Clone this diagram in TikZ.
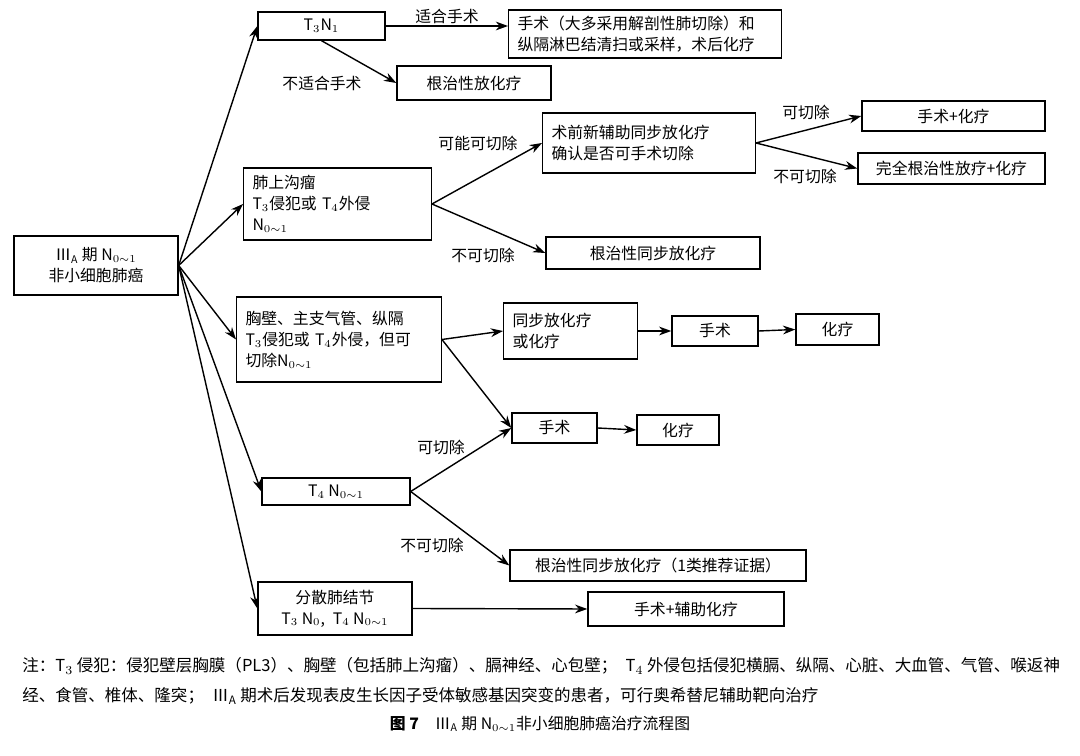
\documentclass[tikz,border=0pt]{standalone}
\usepackage{fontspec}
\setmainfont{Noto Sans CJK SC}
\usetikzlibrary{arrows.meta}
\tikzset{
  box/.style={draw,thick,inner sep=2pt,font=\fontsize{9}{12}\selectfont},
  lbox/.style={box,align=left,inner xsep=5pt},
  lbl/.style={font=\fontsize{9}{11}\selectfont,inner sep=1pt},
  note/.style={font=\fontsize{9.4}{11}\selectfont,inner sep=0pt,anchor=west},
  arr/.style={thick,-{Stealth[length=7pt,width=5pt]}}
}
\begin{document}
\begin{tikzpicture}[x=0.02cm,y=-0.02cm]
    \useasboundingbox (0,0) rectangle (1080,756);
    % boxes
    \node[box,minimum width=3.28cm,minimum height=1.18cm,align=center] (root) at (96,265.5) {Ⅲ$_\mathrm{A}$ 期 N$_{0\sim1}$\\非小细胞肺癌};
    \node[box,minimum width=2.54cm,minimum height=0.56cm] (t3n1) at (321.5,26) {T$_3$N$_1$};
    \node[lbox,text width=5.1cm,minimum height=0.96cm] (surg1) at (645,34) {手术（大多采用解剖性肺切除）和\\纵隔淋巴结清扫或采样，术后化疗};
    \node[box,minimum width=3.08cm,minimum height=0.68cm] (rad1) at (474,83) {根治性放化疗};
    \node[lbox,text width=3.4cm,minimum height=1.44cm] (pan) at (337.5,204) {肺上沟瘤\\T$_3$侵犯或 T$_4$外侵\\N$_{0\sim1}$};
    \node[lbox,text width=3.9cm,minimum height=1.2cm] (neo) at (649,143) {术前新辅助同步放化疗\\确认是否可手术切除};
    \node[box,minimum width=3.66cm,minimum height=0.6cm] (sc1) at (953.5,116) {手术+化疗};
    \node[box,minimum width=3.74cm,minimum height=0.62cm] (full) at (951.5,168.5) {完全根治性放疗+化疗};
    \node[box,minimum width=4.28cm,minimum height=0.64cm] (crt1) at (653,253) {根治性同步放化疗};
    \node[lbox,text width=3.74cm,minimum height=1.7cm] (wall) at (339,339.5) {胸壁、主支气管、纵隔\\T$_3$侵犯或 T$_4$外侵，但可\\切除N$_{0\sim1}$};
    \node[lbox,text width=2.32cm,minimum height=1.12cm] (cc) at (570.5,331) {同步放化疗\\或化疗};
    \node[box,minimum width=1.72cm,minimum height=0.6cm] (s2) at (715,331) {手术};
    \node[box,minimum width=1.66cm,minimum height=0.62cm] (c2) at (837.5,329.5) {化疗};
    \node[box,minimum width=1.7cm,minimum height=0.6cm] (s3) at (554.5,428) {手术};
    \node[box,minimum width=1.64cm,minimum height=0.6cm] (c3) at (678,430) {化疗};
    \node[box,minimum width=2.96cm,minimum height=0.54cm] (t4) at (336,491.5) {T$_4$ N$_{0\sim1}$};
    \node[box,minimum width=5.92cm,minimum height=0.62cm] (crt2) at (658,565.5) {根治性同步放化疗（1类推荐证据）};
    \node[box,minimum width=3.08cm,minimum height=1.06cm,align=center] (nod) at (335,608.5) {分散肺结节\\T$_3$ N$_0$,\enspace T$_4$ N$_{0\sim1}$};
    \node[box,minimum width=3.92cm,minimum height=0.68cm] (sac) at (686,609) {手术+辅助化疗};
    % connectors
    \draw[arr] (root.east) -- (t3n1.west);
    \draw[arr] (root.east) -- (pan.west);
    \draw[arr] (root.east) -- (wall.west);
    \draw[arr] (root.east) -- (t4.west);
    \draw[arr] (root.east) -- (nod.west);
    \draw[arr] (t3n1.east) -- (surg1.west |- t3n1.east);
    \draw[arr] (t3n1.south) -- (rad1.west);
    \draw[arr] (pan.east) -- (neo.west);
    \draw[arr] (pan.east) -- (crt1.west);
    \draw[arr] (neo.east) -- (sc1.west);
    \draw[arr] (neo.east) -- (full.west);
    \draw[arr] (wall.east) -- (cc.west);
    \draw[arr] (wall.east) -- (s3.west);
    \draw[arr] (cc.east) -- (s2.west);
    \draw[arr] (s2.east) -- (c2.west);
    \draw[arr] (s3.east) -- (c3.west);
    \draw[arr] (t4.east) -- (s3.west);
    \draw[arr] (t4.east) -- (crt2.west);
    \draw[arr] (nod.east) -- (sac.west);
    % labels
    \node[lbl] (l1) at (447,16) {适合手术};
    \node[lbl] (l2) at (322,83) {不适合手术};
    \node[lbl] (l3) at (478,143) {可能可切除};
    \node[lbl] (l4) at (483,255) {不可切除};
    \node[lbl] (l5) at (806,112) {可切除};
    \node[lbl] (l6) at (805,176) {不可切除};
    \node[lbl] (l7) at (441,447) {可切除};
    \node[lbl] (l8) at (432,545) {不可切除};
    % notes
    \node[note] (note1) at (22,666) {注：T$_3$ 侵犯：侵犯壁层胸膜（PL3）、胸壁（包括肺上沟瘤）、膈神经、心包壁；\enspace T$_4$ 外侵包括侵犯横膈、纵隔、心脏、大血管、气管、喉返神};
    \node[note] (note2) at (22,696) {经、食管、椎体、隆突；\enspace Ⅲ$_\mathrm{A}$ 期术后发现表皮生长因子受体敏感基因突变的患者，可行奥希替尼辅助靶向治疗};
    \node[lbl,font=\fontsize{9}{11}\selectfont] (cap) at (540,724) {\textbf{图 7}\quad Ⅲ$_\mathrm{A}$ 期 N$_{0\sim1}$非小细胞肺癌治疗流程图};
\end{tikzpicture}
\end{document}
